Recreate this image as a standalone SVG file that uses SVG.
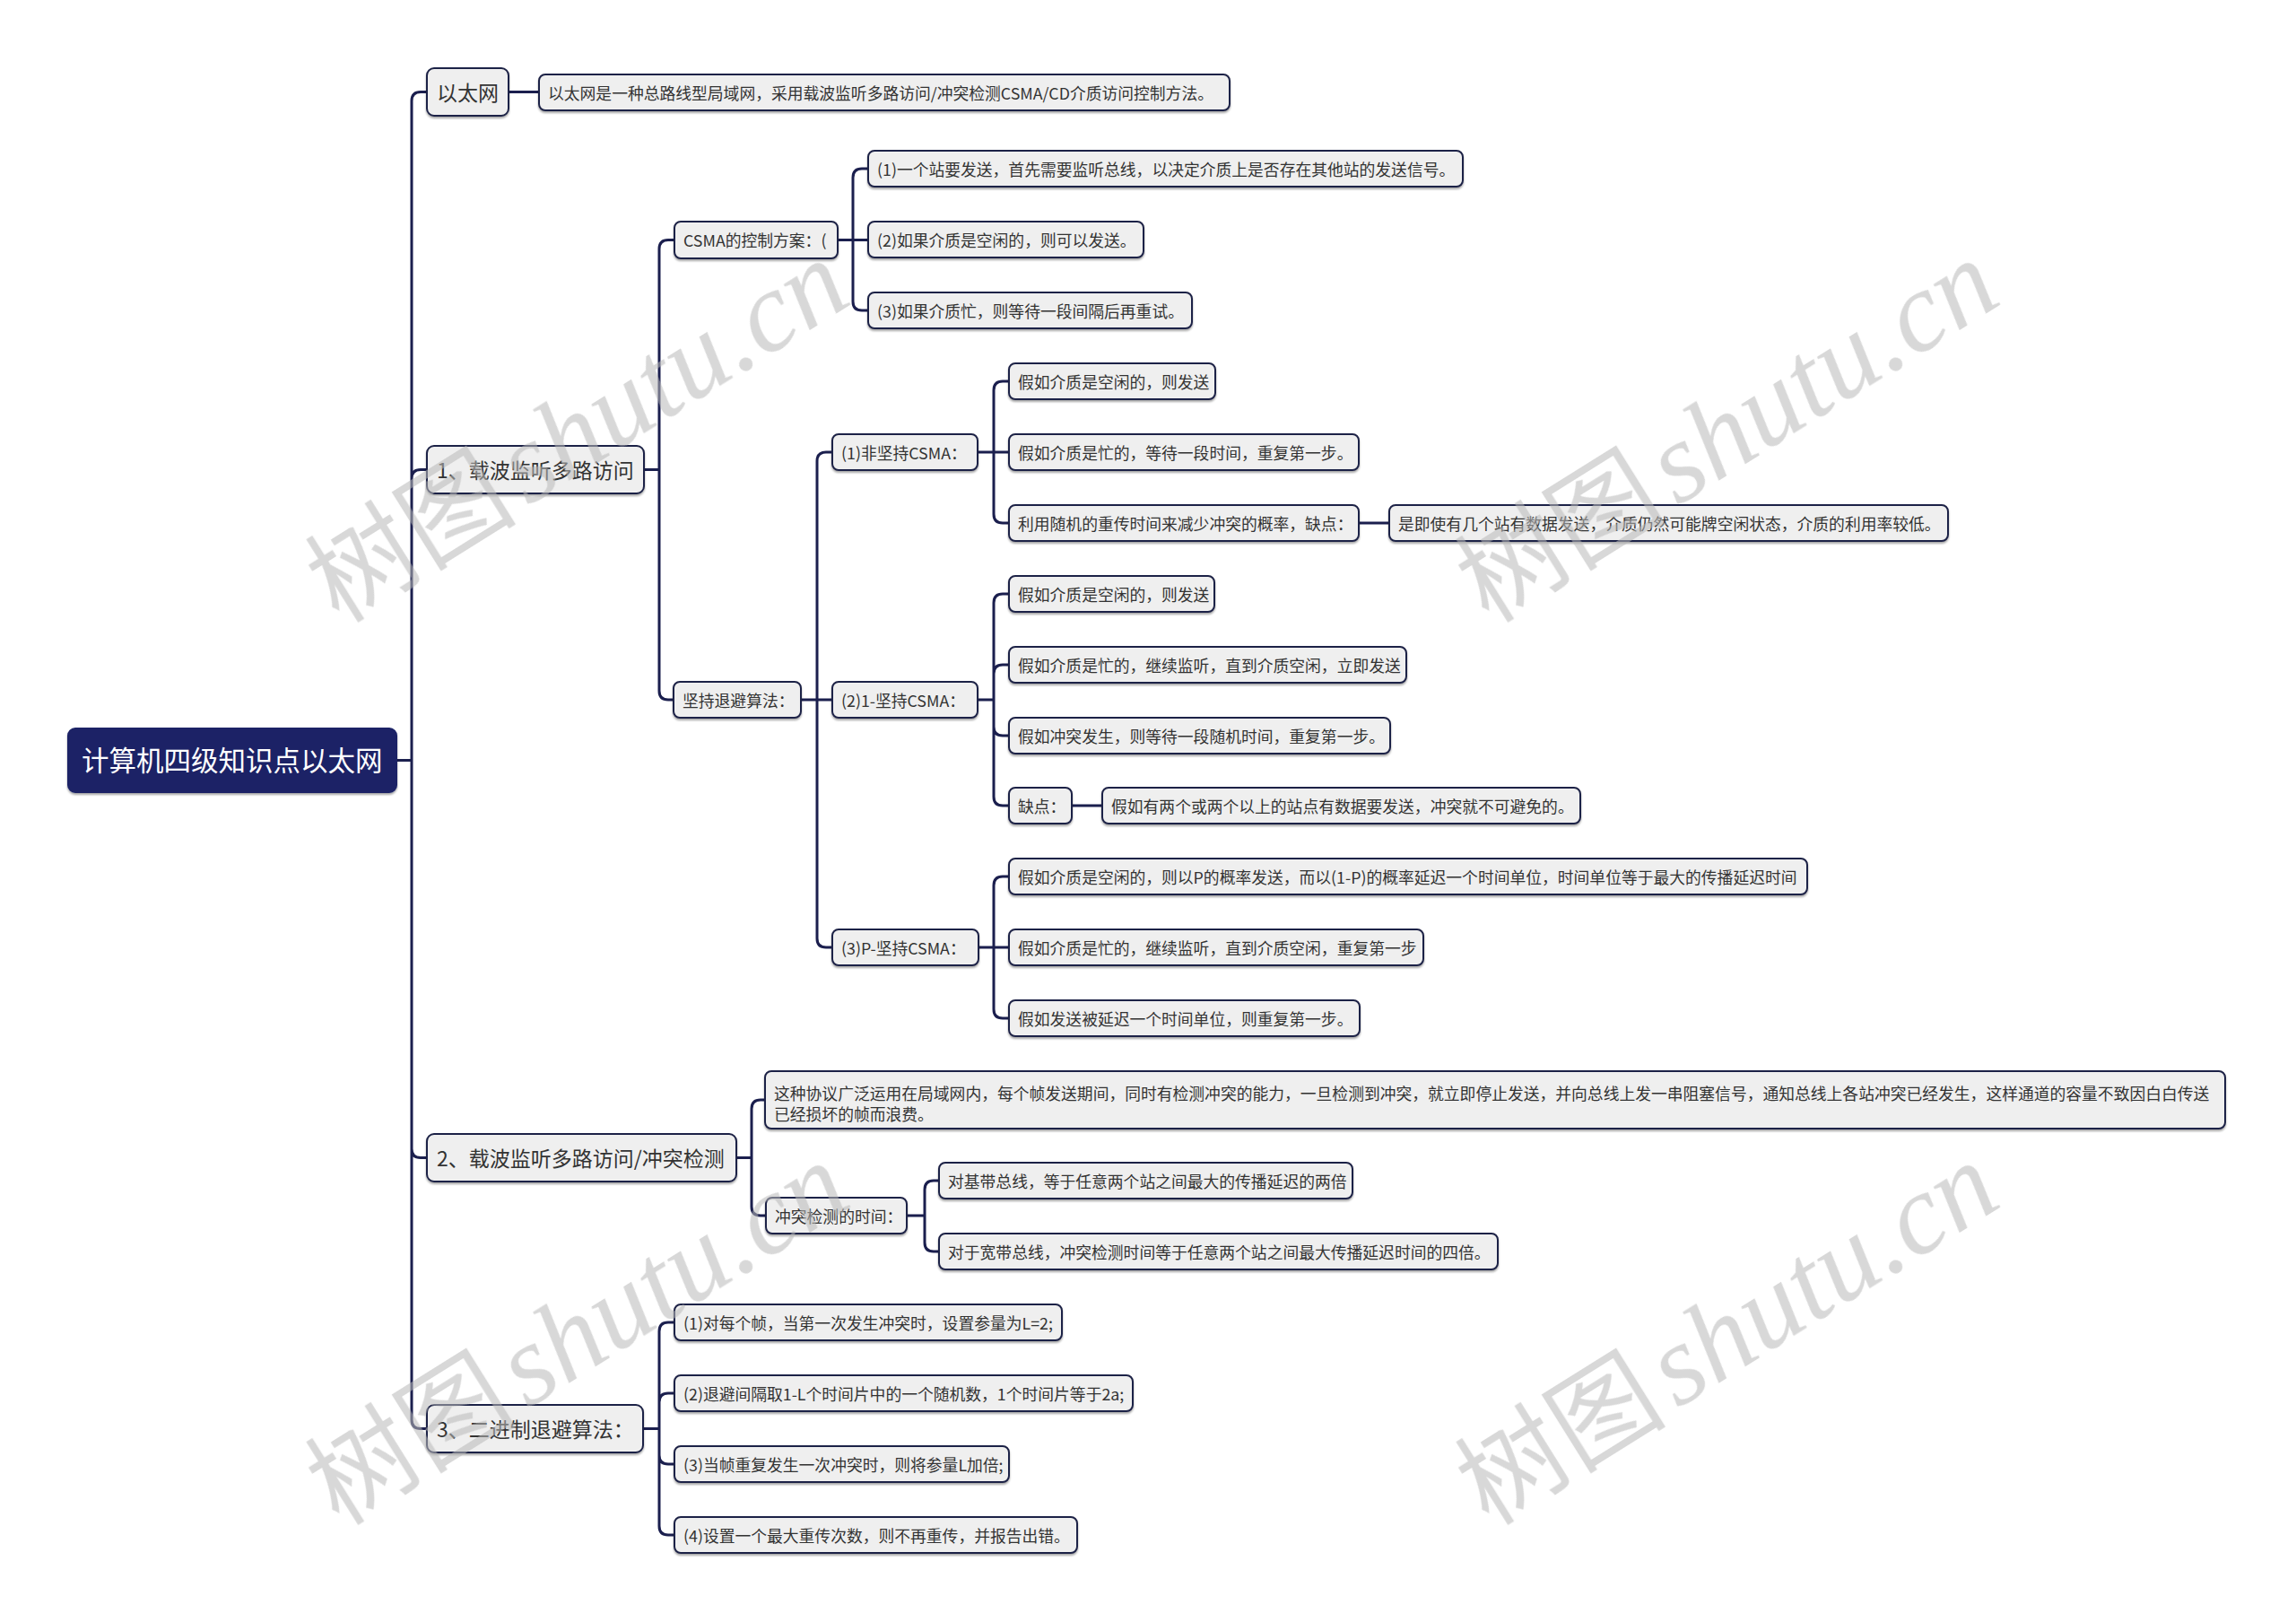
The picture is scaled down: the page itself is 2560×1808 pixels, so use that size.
<svg xmlns="http://www.w3.org/2000/svg" width="2560" height="1808" viewBox="0 0 2560 1808">
<defs>
<filter id="sh" x="-5%" y="-20%" width="110%" height="150%">
<feDropShadow dx="0" dy="2" stdDeviation="1" flood-color="#000" flood-opacity="0.35"/>
</filter>
<style>
.n rect{fill:#efefef;stroke:#1f2446;stroke-width:2;filter:url(#sh)}
.n text{font-family:"Noto Sans CJK SC","Noto Sans",sans-serif;fill:#333;font-size:17.8px;transform:translateY(1.5px)}
.l1 text{font-size:23px}
.root rect{fill:#1b2266;stroke:#1b2266;stroke-width:2;filter:url(#sh)}
.root text{font-family:"Noto Sans CJK SC","Noto Sans",sans-serif;fill:#fff;font-size:30.5px}
.c path{fill:none;stroke:#1b1f4e;stroke-width:3;stroke-linecap:round}
.wm{fill:#b8b8b8;opacity:0.55}
.wm .cj{font-family:"Noto Sans CJK SC",sans-serif;font-size:118px}
.wm .lt{font-family:"Liberation Serif",serif;font-style:italic;font-size:128px}
</style>
</defs>
<rect width="2560" height="1808" fill="#fff"/>
<g id="connectors" class="c">
<path d="M442 847.5H459M459 847.5V112.5Q459 102.5 469 102.5H476M459 847.5V533.5Q459 523.5 469 523.5H476M459 847.5V1280.5Q459 1290.5 469 1290.5H476M459 847.5V1582.5Q459 1592.5 469 1592.5H476"/>
<path d="M567 102.5H601"/>
<path d="M718 523.5H735M735 523.5V277.5Q735 267.5 745 267.5H752M735 523.5V770Q735 780 745 780H751"/>
<path d="M934 267.5H968M951 267.5V198Q951 188 961 188H968M951 267.5V336Q951 346 961 346H968"/>
<path d="M893 780H928M911 780V514Q911 504 921 504H928M911 780V1046Q911 1056 921 1056H928"/>
<path d="M1090 504H1125M1108 504V435Q1108 425 1118 425H1125M1108 504V573Q1108 583 1118 583H1125"/>
<path d="M1515 583H1549"/>
<path d="M1090 780H1108M1108 780V672Q1108 662 1118 662H1125M1108 780V751Q1108 741 1118 741H1125M1108 780V810Q1108 820 1118 820H1125M1108 780V888Q1108 898 1118 898H1125"/>
<path d="M1195 898H1229"/>
<path d="M1091 1056H1125M1108 1056V987Q1108 977 1118 977H1125M1108 1056V1125Q1108 1135 1118 1135H1125"/>
<path d="M821 1290.5H838M838 1290.5V1236Q838 1226 848 1226H853M838 1290.5V1345Q838 1355 848 1355H854"/>
<path d="M1011 1355H1031M1031 1355V1326Q1031 1316 1041 1316H1047M1031 1355V1385Q1031 1395 1041 1395H1047"/>
<path d="M717 1592.5H735M735 1592.5V1484Q735 1474 745 1474H752M735 1592.5V1563Q735 1553 745 1553H752M735 1592.5V1622Q735 1632 745 1632H752M735 1592.5V1701Q735 1711 745 1711H752"/>
</g>
<g id="root" class="root"><rect x="76" y="812" width="366" height="71" rx="8"/><text x="91" y="859">计算机四级知识点以太网</text></g>
<g id="n-ethernet" class="n l1"><rect x="476" y="76" width="91" height="53" rx="8"/><text x="487" y="110.8">以太网</text></g>
<g id="n-ethernet-desc" class="n"><rect x="601" y="83" width="770" height="40" rx="7"/><text x="611" y="109.4">以太网是一种总路线型局域网，采用载波监听多路访问/冲突检测CSMA/CD介质访问控制方法。</text></g>
<g id="n-s1" class="n l1"><rect x="476" y="497" width="242" height="53" rx="8"/><text x="487" y="531.8">1、载波监听多路访问</text></g>
<g id="n-csma" class="n"><rect x="752" y="247" width="182" height="41" rx="7"/><text x="762" y="273.9">CSMA的控制方案：(</text></g>
<g id="n-csma-1" class="n"><rect x="968" y="168" width="663" height="40" rx="7"/><text x="978" y="194.4">(1)一个站要发送，首先需要监听总线，以决定介质上是否存在其他站的发送信号。</text></g>
<g id="n-csma-2" class="n"><rect x="968" y="247" width="307" height="40" rx="7"/><text x="978" y="273.4">(2)如果介质是空闲的，则可以发送。</text></g>
<g id="n-csma-3" class="n"><rect x="968" y="326" width="361" height="40" rx="7"/><text x="978" y="352.4">(3)如果介质忙，则等待一段间隔后再重试。</text></g>
<g id="n-backoff" class="n"><rect x="751" y="760" width="142" height="40" rx="7"/><text x="761" y="786.4">坚持退避算法：</text></g>
<g id="n-np" class="n"><rect x="928" y="484" width="162" height="40" rx="7"/><text x="938" y="510.4">(1)非坚持CSMA：</text></g>
<g id="n-1p" class="n"><rect x="928" y="760" width="162" height="40" rx="7"/><text x="938" y="786.4">(2)1-坚持CSMA：</text></g>
<g id="n-pp" class="n"><rect x="928" y="1036" width="163" height="40" rx="7"/><text x="938" y="1062.4">(3)P-坚持CSMA：</text></g>
<g id="n-np-1" class="n"><rect x="1125" y="405" width="230" height="40" rx="7"/><text x="1135" y="431.4">假如介质是空闲的，则发送</text></g>
<g id="n-np-2" class="n"><rect x="1125" y="484" width="390" height="40" rx="7"/><text x="1135" y="510.4">假如介质是忙的，等待一段时间，重复第一步。</text></g>
<g id="n-np-3" class="n"><rect x="1125" y="563" width="390" height="40" rx="7"/><text x="1135" y="589.4">利用随机的重传时间来减少冲突的概率，缺点：</text></g>
<g id="n-np-4" class="n"><rect x="1549" y="563" width="623" height="40" rx="7"/><text x="1559" y="589.4">是即使有几个站有数据发送，介质仍然可能牌空闲状态，介质的利用率较低。</text></g>
<g id="n-1p-1" class="n"><rect x="1125" y="642" width="229" height="40" rx="7"/><text x="1135" y="668.4">假如介质是空闲的，则发送</text></g>
<g id="n-1p-2" class="n"><rect x="1125" y="721" width="443" height="40" rx="7"/><text x="1135" y="747.4">假如介质是忙的，继续监听，直到介质空闲，立即发送</text></g>
<g id="n-1p-3" class="n"><rect x="1125" y="800" width="425" height="40" rx="7"/><text x="1135" y="826.4">假如冲突发生，则等待一段随机时间，重复第一步。</text></g>
<g id="n-1p-4" class="n"><rect x="1125" y="878" width="70" height="40" rx="7"/><text x="1135" y="904.4">缺点：</text></g>
<g id="n-1p-5" class="n"><rect x="1229" y="878" width="533" height="40" rx="7"/><text x="1239" y="904.4">假如有两个或两个以上的站点有数据要发送，冲突就不可避免的。</text></g>
<g id="n-pp-1" class="n"><rect x="1125" y="957" width="890" height="40" rx="7"/><text x="1135" y="983.4">假如介质是空闲的，则以P的概率发送，而以(1-P)的概率延迟一个时间单位，时间单位等于最大的传播延迟时间</text></g>
<g id="n-pp-2" class="n"><rect x="1125" y="1036" width="462" height="40" rx="7"/><text x="1135" y="1062.4">假如介质是忙的，继续监听，直到介质空闲，重复第一步</text></g>
<g id="n-pp-3" class="n"><rect x="1125" y="1115" width="391" height="40" rx="7"/><text x="1135" y="1141.4">假如发送被延迟一个时间单位，则重复第一步。</text></g>
<g id="n-s2" class="n l1"><rect x="476" y="1264" width="345" height="53" rx="8"/><text x="487" y="1298.8">2、载波监听多路访问/冲突检测</text></g>
<g id="n-s2-desc" class="n"><rect x="853" y="1194" width="1628" height="64" rx="7"/><text x="863" y="1224.5">这种协议广泛运用在局域网内，每个帧发送期间，同时有检测冲突的能力，一旦检测到冲突，就立即停止发送，并向总线上发一串阻塞信号，通知总线上各站冲突已经发生，这样通道的容量不致因白白传送</text><text x="863" y="1247.5">已经损坏的帧而浪费。</text></g>
<g id="n-cdtime" class="n"><rect x="854" y="1335" width="157" height="40" rx="7"/><text x="864" y="1361.4">冲突检测的时间：</text></g>
<g id="n-cdtime-1" class="n"><rect x="1047" y="1296" width="461" height="40" rx="7"/><text x="1057" y="1322.4">对基带总线，等于任意两个站之间最大的传播延迟的两倍</text></g>
<g id="n-cdtime-2" class="n"><rect x="1047" y="1375" width="623" height="40" rx="7"/><text x="1057" y="1401.4">对于宽带总线，冲突检测时间等于任意两个站之间最大传播延迟时间的四倍。</text></g>
<g id="n-s3" class="n l1"><rect x="476" y="1566" width="241" height="53" rx="8"/><text x="487" y="1600.8">3、二进制退避算法：</text></g>
<g id="n-s3-1" class="n"><rect x="752" y="1454" width="432" height="40" rx="7"/><text x="762" y="1480.4">(1)对每个帧，当第一次发生冲突时，设置参量为L=2;</text></g>
<g id="n-s3-2" class="n"><rect x="752" y="1533" width="511" height="40" rx="7"/><text x="762" y="1559.4">(2)退避间隔取1-L个时间片中的一个随机数，1个时间片等于2a;</text></g>
<g id="n-s3-3" class="n"><rect x="752" y="1612" width="373" height="40" rx="7"/><text x="762" y="1638.4">(3)当帧重复发生一次冲突时，则将参量L加倍;</text></g>
<g id="n-s3-4" class="n"><rect x="752" y="1691" width="449" height="40" rx="7"/><text x="762" y="1717.4">(4)设置一个最大重传次数，则不再重传，并报告出错。</text></g>
<g id="watermarks" class="wm">
<text transform="translate(378 696) rotate(-32)"><tspan class="cj">树图</tspan><tspan class="lt" dx="12">shutu.cn</tspan></text>
<text transform="translate(1660 696) rotate(-32)"><tspan class="cj">树图</tspan><tspan class="lt" dx="12">shutu.cn</tspan></text>
<text transform="translate(378 1702) rotate(-32)"><tspan class="cj">树图</tspan><tspan class="lt" dx="12">shutu.cn</tspan></text>
<text transform="translate(1660 1702) rotate(-32)"><tspan class="cj">树图</tspan><tspan class="lt" dx="12">shutu.cn</tspan></text>
</g>
</svg>
